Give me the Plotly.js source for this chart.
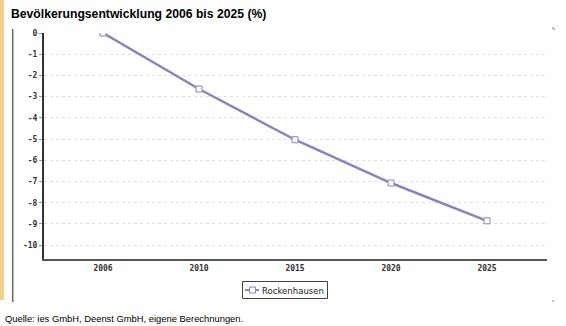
<!DOCTYPE html>
<html>
<head>
<meta charset="utf-8">
<script src="https://cdn.plot.ly/plotly-3.0.1.min.js"></script>
<style>
html,body{margin:0;padding:0;background:#fff;}
#chart{width:566px;height:326px;}
</style>
</head>
<body>
<div id="chart"></div>
<script>
var years = ["2006", "2010", "2015", "2020", "2025"];
var rockenhausen = [0, -2.64, -5.03, -7.07, -8.85];
var seriesName = "Rockenhausen";
var yTicks = [0, -1, -2, -3, -4, -5, -6, -7, -8, -9, -10];
var titleText = "Bevölkerungsentwicklung 2006 bis 2025 (%)";
var sourceText = "Quelle: ies GmbH, Deenst GmbH, eigene Berechnungen.";

var lineColor = "#8a80c6";

// plot area in pixels
var PL = 44, PR = 547, PT = 33, PB = 259;
function px(x){ return (x - PL) / (PR - PL); }
function py(y){ return (PB - y) / (PB - PT); }

var trace = {
  x: years,
  y: rockenhausen,
  name: seriesName,
  type: "scatter",
  mode: "lines+markers",
  line: {color: lineColor, width: 2.5},
  marker: {symbol: "square", size: 6, color: "#ffffff", line: {color: lineColor, width: 1}},
  showlegend: false
};

var layout = {
  width: 566, height: 326,
  margin: {l: PL, r: 566 - PR, t: PT, b: 326 - PB},
  paper_bgcolor: "#ffffff",
  plot_bgcolor: "#ffffff",
  showlegend: false,
  title: {
    text: titleText,
    font: {family: "Liberation Sans, Arial, sans-serif", size: 12.2, color: "#000", weight: "bold"},
    x: 11 / 566, xref: "container", xanchor: "left",
    y: 1 - 13.5 / 326, yref: "container", yanchor: "middle"
  },
  xaxis: {
    type: "category",
    range: [-0.615, 4.625],
    showgrid: false,
    showline: true, linecolor: "#555555", linewidth: 2,
    ticks: "",
    tickfont: {family: "DejaVu Sans Mono, monospace", size: 8, color: "#333", weight: "bold"},
    fixedrange: true
  },
  yaxis: {
    range: [-10.65, 0],
    tickvals: yTicks,
    ticktext: yTicks.map(function(v){return String(v);}),
    showgrid: true, gridcolor: "#e2e2e2", griddash: "dot", gridwidth: 1,
    zeroline: false,
    showline: true, linecolor: "#333333", linewidth: 2,
    ticks: "outside", ticklen: 3, tickcolor: "#999", tickwidth: 1,
    tickfont: {family: "DejaVu Sans Mono, monospace", size: 8, color: "#333", weight: "bold"},
    fixedrange: true
  },
  shapes: [
    {type: "rect", xref: "paper", yref: "paper", x0: px(0), x1: px(4), y0: py(300), y1: py(0),
      fillcolor: "#f5cf87", line: {width: 0}, layer: "below"},
    {type: "line", xref: "paper", yref: "paper", x0: px(12.7), x1: px(12.7), y0: py(302), y1: py(29),
      line: {color: "#666", width: 1.5}},
    // legend box
    {type: "rect", xref: "paper", yref: "paper", x0: px(242.5), x1: px(327.5), y0: py(298.5), y1: py(281.5),
      fillcolor: "#fff", line: {color: "#444", width: 1}},
    {type: "line", xref: "paper", yref: "paper", x0: px(245), x1: px(259), y0: py(290), y1: py(290),
      line: {color: lineColor, width: 2}},
    {type: "rect", xref: "paper", yref: "paper", x0: px(249.5), x1: px(255.5), y0: py(293), y1: py(287),
      fillcolor: "#fff", line: {color: lineColor, width: 1}},
    // corner marks
    {type: "line", xref: "paper", yref: "paper", x0: px(552), x1: px(554), y0: py(28), y1: py(28),
      line: {color: "#888", width: 1}},
    {type: "line", xref: "paper", yref: "paper", x0: px(554), x1: px(554), y0: py(28), y1: py(30),
      line: {color: "#888", width: 1}},
    {type: "line", xref: "paper", yref: "paper", x0: px(552), x1: px(554), y0: py(301), y1: py(301),
      line: {color: "#888", width: 1}}
  ],
  annotations: [
    {text: seriesName, xref: "paper", yref: "paper", x: px(259.5), y: py(290),
      xanchor: "left", yanchor: "middle", showarrow: false,
      font: {family: "DejaVu Sans Condensed, DejaVu Sans, sans-serif", size: 9.5, color: "#222"}},
    {text: sourceText, xref: "paper", yref: "paper", x: px(3), y: py(318),
      xanchor: "left", yanchor: "middle", showarrow: false,
      font: {family: "Liberation Sans, Arial, sans-serif", size: 9.4, color: "#000"}}
  ]
};

Plotly.newPlot("chart", [trace], layout, {displayModeBar: false, staticPlot: true});
</script>
</body>
</html>
